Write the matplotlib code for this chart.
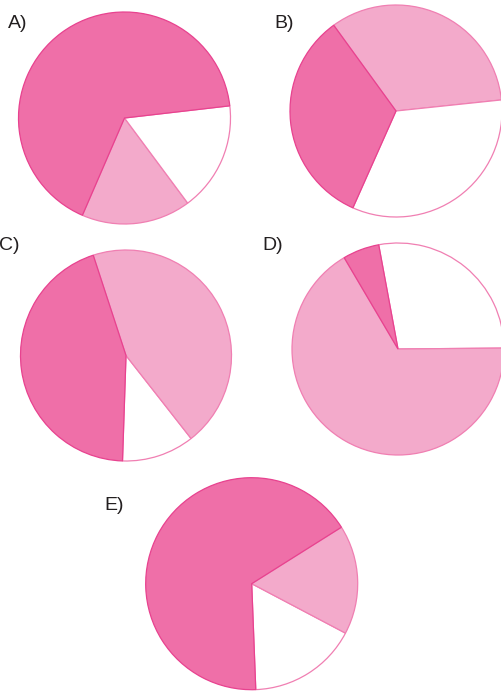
"""Five pie charts (A-E) split into dark pink, light pink and white shares."""

import matplotlib
matplotlib.use("Agg")
import matplotlib.pyplot as plt

W, H = 501, 691

# slice order per pie is the drawing order going counter-clockwise from start
labels = ["A)", "B)", "C)", "D)", "E)"]
slices_a = ["dark", "light", "white"]
values_a = [4, 1, 1]
slices_b = ["light", "dark", "white"]
values_b = [1, 1, 1]
slices_c = ["dark", "white", "light"]
values_c = [4, 1, 4]
slices_d = ["white", "dark", "light"]
values_d = [5, 1, 12]
slices_e = ["dark", "white", "light"]
values_e = [4, 1, 1]

fill = {"dark": "#ef6fa8", "light": "#f3aacb", "white": "#ffffff"}
edge = {"dark": "#e8428f", "light": "#f07fb2", "white": "#f07fb2"}

# layout in pixel units (y up): centre x, centre y, radius, start angle
layout = [
    (124.5, 573.0, 106, 6.6),
    (396.0, 580.0, 106, 6.0),
    (126.0, 335.5, 105.5, 108.1),
    (398.0, 342.0, 106, 0.5),
    (251.7, 107.3, 106, 32.2),
]
label_pos = [(8, 676), (274, 676), (-1, 454), (262, 454), (104, 194)]

fig = plt.figure(figsize=(W / 100, H / 100), dpi=100)
ax = fig.add_axes([0, 0, 1, 1])

pies = [(slices_a, values_a), (slices_b, values_b), (slices_c, values_c),
        (slices_d, values_d), (slices_e, values_e)]

for (names, vals), (cx, cy, r, start), lab, (lx, ly) in zip(pies, layout, labels, label_pos):
    wedges, _ = ax.pie(vals, colors=[fill[n] for n in names], startangle=start,
                       counterclock=True, center=(cx, cy), radius=r,
                       wedgeprops=dict(linewidth=0.9))
    for w, n in zip(wedges, names):
        w.set_edgecolor(edge[n])
        w.set_zorder(3 if n == "dark" else 2)
    ax.text(lx, ly, lab, fontsize=14, color="#231f20", ha="left", va="top",
            family="Liberation Sans")

ax.set_xlim(0, W)
ax.set_ylim(0, H)
ax.set_aspect("equal")
ax.axis("off")

fig.savefig("out.png", dpi=100)
plt.close(fig)
